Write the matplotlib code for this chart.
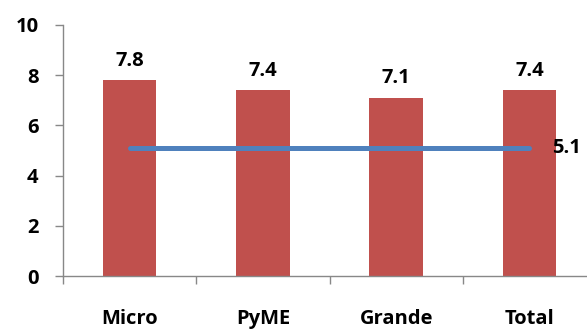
import numpy as np
import matplotlib.pyplot as plt

# Datos
categorias = ["Micro", "PyME", "Grande", "Total"]
valores = [7.8, 7.4, 7.1, 7.4]
promedio = [5.1, 5.1, 5.1, 5.1]

plt.rcParams['font.family'] = ['Open Sans', 'DejaVu Sans']
plt.rcParams['font.weight'] = 'bold'

fig = plt.figure(figsize=(5.87, 3.29), dpi=100)
ax = fig.add_axes([63/587, 53/329, 533/587, 251/329])

x = np.arange(len(categorias))

# Barras
ax.bar(x, valores, width=0.4, color="#C0504D", zorder=2)

# Linea de promedio
ax.plot(x, promedio, color="#4F81BD", linewidth=3.6, solid_capstyle='round', zorder=3)

# Etiquetas de valores
for xi, v in zip(x, valores):
    ax.annotate(f"{v:.1f}", (xi, v), xytext=(0, 14), textcoords='offset points',
                ha='center', va='center', fontsize=14.5, fontweight='bold')

ax.annotate(f"{promedio[-1]:.1f}", (x[-1], promedio[-1]), xytext=(16, 0),
            textcoords='offset points', ha='left', va='center',
            fontsize=14.5, fontweight='bold')

# Ejes
ax.set_xlim(-0.5, 3.5)
ax.set_ylim(0, 10)
ax.set_yticks([0, 2, 4, 6, 8, 10])
ax.set_xticks(x)
ax.set_xticklabels(categorias)
ax.set_xticks(np.arange(-0.5, 4, 1), minor=True)
ax.tick_params(axis='x', which='major', length=0, pad=24, labelsize=14.5)
ax.tick_params(axis='x', which='minor', length=5.5, color="#888888", width=1)
ax.tick_params(axis='y', length=5.5, color="#888888", width=1, labelsize=14.5, pad=12)

for s in ['top', 'right']:
    ax.spines[s].set_visible(False)
for s in ['left', 'bottom']:
    ax.spines[s].set_color("#888888")
    ax.spines[s].set_linewidth(1)

for lbl in ax.get_xticklabels() + ax.get_yticklabels():
    lbl.set_fontweight('bold')

plt.savefig("out.png", dpi=100)
